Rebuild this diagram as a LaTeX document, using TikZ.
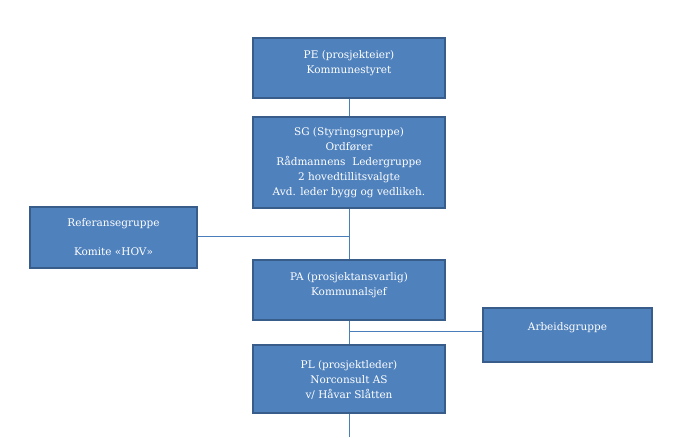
\documentclass[tikz,border=0pt]{standalone}
\usepackage{fontspec}
\setmainfont{DejaVu Serif}
\begin{document}
\begin{tikzpicture}[x=1pt,y=1pt,
  box/.style={draw=boxedge,line width=1.5pt,fill=boxfill,inner sep=0pt,rectangle},
  txt/.style={text=white,align=center,inner sep=0pt,font=\fontsize{10.5}{15}\selectfont},
  conn/.style={draw=linecol,line width=0.9pt}]
\definecolor{boxfill}{HTML}{4F81BD}
\definecolor{boxedge}{HTML}{385D8A}
\definecolor{linecol}{HTML}{4A7EBB}
\useasboundingbox[fill=white] (0,0) rectangle (695,437);
% boxes
\node[box,minimum width=192pt,minimum height=60pt] (pe) at (349,369) {};
\node[box,minimum width=192pt,minimum height=91pt] (sg) at (349,274.5) {};
\node[box,minimum width=167pt,minimum height=61pt] (ref) at (113.5,199.5) {};
\node[box,minimum width=192pt,minimum height=60pt] (pa) at (349,147) {};
\node[box,minimum width=169pt,minimum height=54pt] (arb) at (567.5,102) {};
\node[box,minimum width=192pt,minimum height=68pt] (pl) at (349,58) {};
% texts
\node[txt] (pet) at (349,374) {PE (prosjekteier)\\Kommunestyret};
\node[txt] (sgt) at (349,274) {SG (Styringsgruppe)\\Ordfører\\Rådmannens\ \ Ledergruppe\\2 hovedtillitsvalgte\\Avd. leder bygg og vedlikeh.};
\node[txt] (reft) at (113.5,199.5) {Referansegruppe\\[14pt]Komite «HOV»};
\node[txt] (pat) at (349,152) {PA (prosjektansvarlig)\\Kommunalsjef};
\node[txt] (arbt) at (567.5,109) {Arbeidsgruppe};
\node[txt] (plt) at (349,57) {PL (prosjektleder)\\Norconsult AS\\v/ Håvar Slåtten};
% connectors
\coordinate (refj) at (349,201);
\coordinate (arbj) at (349,106);
\coordinate (bot) at (349,0);
\draw[conn] (pe.south) -- (sg.north);
\draw[conn] (sg.south) -- (pa.north);
\draw[conn] (pa.south) -- (pl.north);
\draw[conn] (pl.south) -- (bot);
\draw[conn] (ref.east |- refj) -- (refj);
\draw[conn] (arbj) -- (arbj -| arb.west);
\end{tikzpicture}
\end{document}
